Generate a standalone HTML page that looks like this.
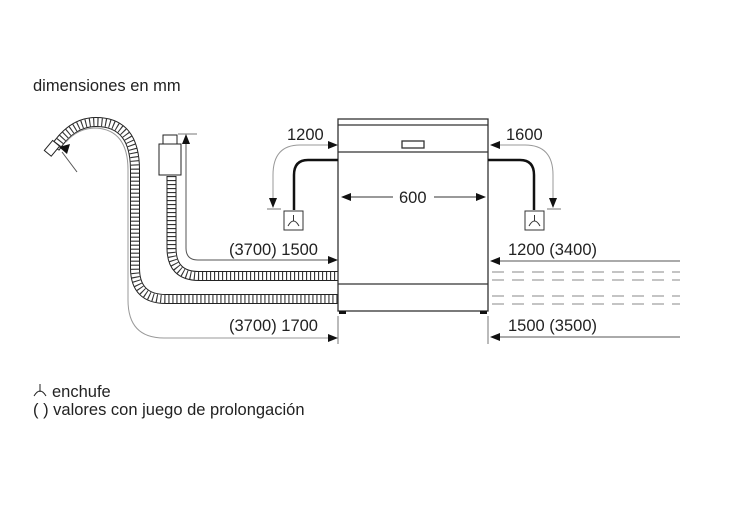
<!DOCTYPE html>
<html><head><style>body{margin:0;background:#fff}svg{display:block}</style></head><body>
<svg width="749" height="507" viewBox="0 0 749 507" xmlns="http://www.w3.org/2000/svg" font-family="Liberation Sans, sans-serif" font-size="16.5" fill="#222">
<text x="33" y="91">dimensiones en mm</text>
<!-- hoses -->
<g fill="none">
<path id="h1" d="M171.5,176 V248 Q171.5,276 199,276 H338"/>
<path id="h2" d="M55,148 Q72,122 96,122 Q135,122 135,170 V268 Q135,299 166,299 H338"/>
<use href="#h1" stroke="#222" stroke-width="10"/><use href="#h1" stroke="#fff" stroke-width="8"/><use href="#h1" stroke="#333" stroke-width="8" stroke-dasharray="1.1 2.9"/>
<use href="#h2" stroke="#222" stroke-width="10"/><use href="#h2" stroke="#fff" stroke-width="8"/><use href="#h2" stroke="#333" stroke-width="8" stroke-dasharray="1.1 2.9"/>
</g>
<rect x="47" y="142" width="9" height="13" transform="rotate(40 52 149)" fill="#fff" stroke="#222"/>
<rect x="159" y="144" width="22" height="31" fill="#fff" stroke="#222"/>
<rect x="163" y="135" width="14" height="9" fill="#fff" stroke="#222"/>
<!-- dimension lines -->
<g stroke="#777" fill="none" stroke-width="1">
<path d="M186,140 V248 Q186,260 198,260 H330" stroke="#555"/>
<line x1="178" y1="134" x2="197" y2="134"/>
<path d="M330,338 H164 Q128,338 128,300 V170 Q128,130 96,128 Q78,128 66,142" stroke="#999"/>
<line x1="62" y1="152" x2="77" y2="172" stroke="#555"/>
<path d="M330,145 H300 Q273,145 273,175 V200" stroke="#999"/>
<line x1="267" y1="209" x2="281" y2="209"/>
<path d="M498,145 H525 Q553,145 553,175 V200" stroke="#999"/>
<line x1="547" y1="209" x2="561" y2="209"/>
<line x1="338" y1="316" x2="338" y2="344"/>
<line x1="488" y1="316" x2="488" y2="344"/>
<line x1="680" y1="261" x2="498" y2="261" stroke="#555"/>
<line x1="680" y1="337" x2="498" y2="337" stroke="#555"/>
<line x1="345" y1="197" x2="393" y2="197" stroke="#333"/>
<line x1="434" y1="197" x2="484" y2="197" stroke="#333"/>
</g>
<g fill="#111">
<path d="M338,260 l-10,-4 v8z"/><path d="M186,134 l-4,10 h8z"/>
<path d="M338,338 l-10,-4 v8z"/>
<path d="M338,145 l-10,-4 v8z"/><path d="M273,208 l-4,-10 h8z"/>
<path d="M490,145 l10,-4 v8z"/><path d="M553,208 l-4,-10 h8z"/>
<path d="M490,261 l10,-4 v8z"/><path d="M490,337 l10,-4 v8z"/>
<path d="M341,197 l10,-4 v8z"/><path d="M486,197 l-10,-4 v8z"/>
<path d="M59,147 l11,-3 -3,10z"/>
</g>
<!-- dashed -->
<g stroke="#888" stroke-dasharray="12 8">
<line x1="492" y1="272" x2="680" y2="272"/><line x1="492" y1="280" x2="680" y2="280"/>
<line x1="492" y1="296" x2="680" y2="296"/><line x1="492" y1="304" x2="680" y2="304"/>
</g>
<!-- appliance -->
<g fill="none" stroke="#333" stroke-width="1.3">
<rect x="338" y="119" width="150" height="192"/>
<line x1="338" y1="125" x2="488" y2="125"/>
<line x1="338" y1="152" x2="488" y2="152"/>
<line x1="338" y1="284" x2="488" y2="284"/>
<rect x="402" y="141" width="22" height="7"/>
</g>
<rect x="339" y="311" width="7" height="3" fill="#111"/><rect x="480" y="311" width="7" height="3" fill="#111"/>
<!-- cords -->
<g fill="none" stroke="#111" stroke-width="2.5">
<path d="M338,160 H308 Q294,160 294,175 V210"/>
<path d="M488,160 H520 Q534,160 534,175 V210"/>
</g>
<g fill="none" stroke="#333">
<rect x="284" y="211" width="19" height="19"/><rect x="525" y="211" width="19" height="19"/>
<path d="M288,226 Q293.5,216 299,226 M293.5,215 V221"/>
<path d="M529,226 Q534.5,216 540,226 M534.5,215 V221"/>
</g>
<text x="287" y="140">1200</text><text x="506" y="140">1600</text>
<text x="399" y="203">600</text>
<text x="229" y="255">(3700) 1500</text><text x="229" y="331">(3700) 1700</text>
<text x="508" y="255">1200 (3400)</text><text x="508" y="331">1500 (3500)</text>
<path d="M34,396 Q40,386 46,396 M40,384 V392" fill="none" stroke="#222"/>
<text x="52" y="397">enchufe</text>
<text x="33" y="415">( ) valores con juego de prolongación</text>
</svg>
</body></html>
